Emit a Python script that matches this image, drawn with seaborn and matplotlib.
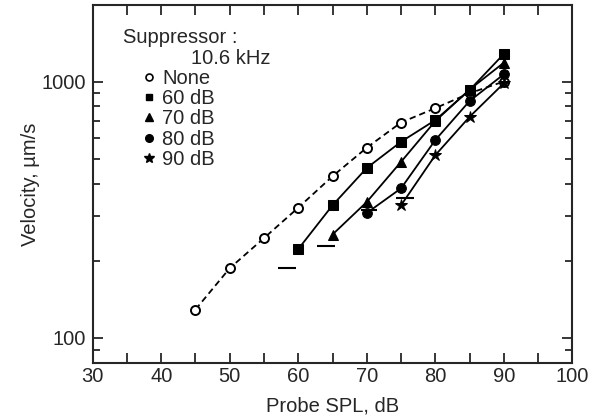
import numpy as np
import pandas as pd
import matplotlib
matplotlib.use("Agg")
import matplotlib.pyplot as plt
from matplotlib.lines import Line2D
import seaborn as sns

# ---- data ----
spl_none = [45, 50, 55, 60, 65, 70, 75, 80, 85, 90]
vel_none = [129, 187, 245, 322, 427, 552, 692, 787, 900, 1000]

spl_60 = [60, 65, 70, 75, 80, 85, 90]
vel_60 = [222, 329, 460, 582, 707, 926, 1281]

spl_70 = [65, 70, 75, 80, 85, 90]
vel_70 = [253, 339, 486, 701, 930, 1184]

spl_80 = [70, 75, 80, 85, 90]
vel_80 = [307, 383, 591, 839, 1067]

spl_90 = [75, 80, 85, 90]
vel_90 = [329, 516, 728, 984]

floor_level = [188, 228, 315, 350]
floor_xmin = [57.1, 62.7, 69.1, 74.3]
floor_xmax = [59.6, 65.3, 71.5, 76.9]

labels = ["None", "60 dB", "70 dB", "80 dB", "90 dB"]
xticks = [30, 40, 50, 60, 70, 80, 90, 100]
yticks = [100, 1000]

# ---- style ----
sns.set_style("ticks")
plt.rcParams['font.family'] = ['Liberation Sans', 'DejaVu Sans']
plt.rcParams['axes.linewidth'] = 1.5

FS = 14.5
fig = plt.figure(figsize=(5.89, 4.20), dpi=100)
ax = fig.add_axes([0.1574, 0.1364, 0.9717 - 0.1574, 0.987 - 0.1364])

series = [
    (spl_none, vel_none, dict(marker='o', mfc='white', mec='black', ms=6.5, mew=1.4, ls=(0, (3.5, 2.2)))),
    (spl_60, vel_60, dict(marker='s', mfc='black', mec='black', ms=6.5, ls='-')),
    (spl_70, vel_70, dict(marker='^', mfc='black', mec='black', ms=7, ls='-')),
    (spl_80, vel_80, dict(marker='o', mfc='black', mec='black', ms=7, ls='-')),
    (spl_90, vel_90, dict(marker='*', mfc='black', mec='black', ms=9, ls='-')),
]
for (xs, ys, kw), lab in zip(series, labels):
    df = pd.DataFrame({"spl": xs, "vel": ys})
    sns.lineplot(data=df, x="spl", y="vel", ax=ax, color='black', lw=1.3,
                 legend=False, zorder=3, **kw)

ax.hlines(floor_level, floor_xmin, floor_xmax, colors='black', lw=1.5, zorder=3)

ax.set_yscale('log')
ax.set_xlim(30, 100)
ax.set_ylim(80, 1980)
ax.set_xticks(xticks)
ax.set_xticks([35, 45, 55, 65, 75, 85, 95], minor=True)
ax.set_yticks(yticks)
ax.set_yticklabels([str(v) for v in yticks])
ax.set_yticks([90, 200, 300, 400, 500, 600, 700, 800, 900], minor=True)
ax.yaxis.set_minor_formatter(matplotlib.ticker.NullFormatter())
ax.tick_params(which='both', direction='in', top=True, right=True, width=1.3,
               labelsize=FS)
ax.tick_params(which='major', length=7)
ax.tick_params(axis='x', which='minor', length=7)
ax.tick_params(axis='y', which='minor', length=5)
ax.tick_params(axis='x', pad=3)
ax.tick_params(axis='y', pad=5)
for s in ax.spines.values():
    s.set_visible(True)
    s.set_linewidth(1.5)

ax.set_xlabel("Probe SPL, dB", fontsize=FS, labelpad=8)
ax.set_ylabel("Velocity, µm/s", fontsize=FS, labelpad=1)

# legend
ax.text(0.063, 0.910, "Suppressor :", transform=ax.transAxes, fontsize=FS,
        va='center', ha='left')
ax.text(0.204, 0.851, "10.6 kHz", transform=ax.transAxes, fontsize=FS,
        va='center', ha='left')
handles = [
    Line2D([], [], marker='o', mfc='white', mec='black', ms=5, mew=1.2, ls='none', color='black'),
    Line2D([], [], marker='s', mfc='black', mec='black', ms=5, ls='none', color='black'),
    Line2D([], [], marker='^', mfc='black', mec='black', ms=5.5, ls='none', color='black'),
    Line2D([], [], marker='o', mfc='black', mec='black', ms=5.5, ls='none', color='black'),
    Line2D([], [], marker='*', mfc='black', mec='black', ms=7, ls='none', color='black'),
]
ax.legend(handles, labels, loc='upper left', bbox_to_anchor=(0.105, 0.822),
          frameon=False, fontsize=FS, handlelength=0.6, handletextpad=0.36,
          labelspacing=0.06, borderpad=0, borderaxespad=0)

fig.savefig("out.png", dpi=100)
